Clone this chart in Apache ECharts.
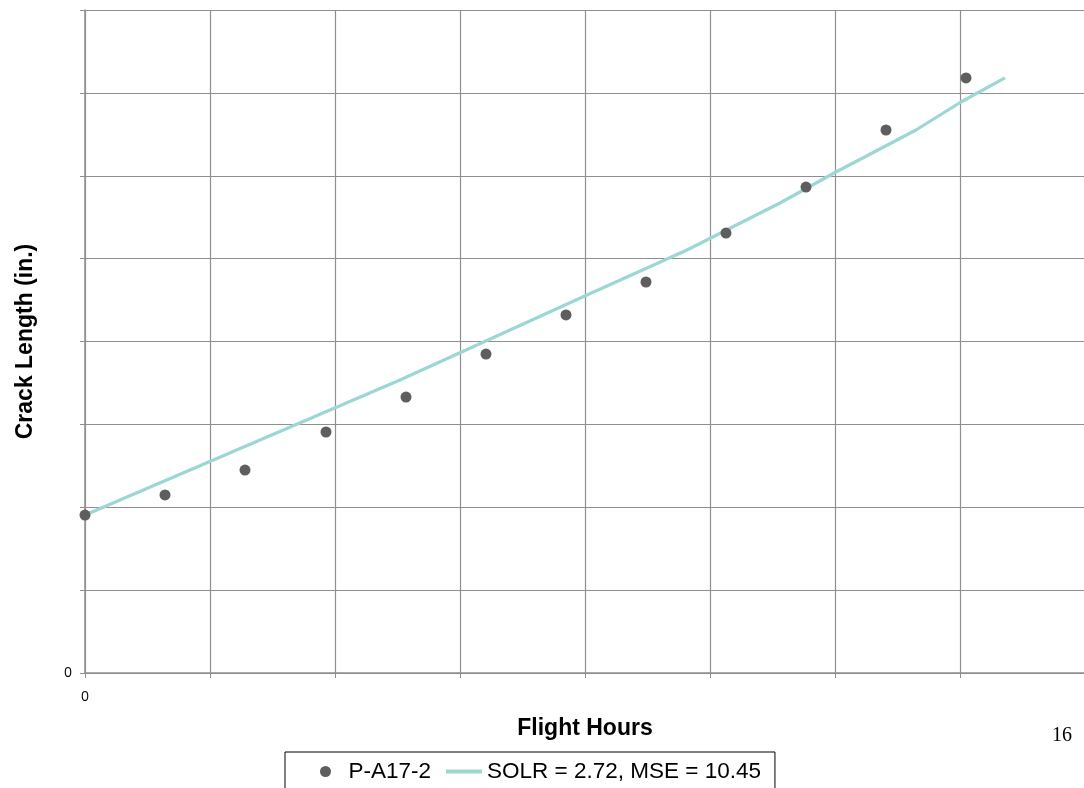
<!DOCTYPE html>
<html>
<head>
<meta charset="utf-8">
<script src="https://cdn.jsdelivr.net/npm/echarts@6/dist/echarts.min.js"></script>
<style>html,body{margin:0;padding:0;background:#fff;}#c{width:1084px;height:788px;}</style>
</head>
<body>
<div id="c"></div>
<script>
// Data (arbitrary units; axis labels hidden except 0)
var hours = [0, 640, 1280, 1928, 2568, 3208, 3848, 4488, 5128, 5768, 6408, 7048];
var crack = [1906, 2148, 2449, 2908, 3330, 3849, 4320, 4718, 5309, 5864, 6552, 7180];
var fitHours = [0, 840, 2520, 4016, 4816, 5560, 6008, 6648, 7008, 7360];
var fitCrack = [1906, 2450, 3535, 4561, 5104, 5671, 6045, 6552, 6890, 7180];
var seriesNames = ['P-A17-2', 'SOLR = 2.72, MSE = 10.45'];
var xTitle = 'Flight Hours';
var yTitle = 'Crack Length (in.)';
var pageNumber = '16';

var gridColor = '#8f8f8f';
var chart = echarts.init(document.getElementById('c'));
var pts = hours.map(function (h, i) { return [h, crack[i]]; });
var fit = fitHours.map(function (h, i) { return [h, fitCrack[i]]; });
var zeroOnly = function (v) { return v === 0 ? '0' : ''; };

chart.setOption({
  animation: false,
  grid: { left: 85, top: 10, width: 1000, height: 663, containLabel: false, outerBoundsMode: 'none' },
  xAxis: {
    type: 'value', min: 0, max: 8000, interval: 1000,
    axisLine: { show: true, lineStyle: { color: gridColor, width: 1.5 } },
    axisTick: { show: true, inside: false, length: 5, lineStyle: { color: gridColor } },
    splitLine: { show: true, lineStyle: { color: gridColor, width: 1.2 } },
    axisLabel: { formatter: zeroOnly, margin: 17, color: '#000', fontSize: 14, fontFamily: 'Open Sans' },
    name: xTitle, nameLocation: 'middle', nameGap: 44,
    nameTextStyle: { fontFamily: 'Liberation Sans', fontWeight: 'bold', fontSize: 23, color: '#000' }
  },
  yAxis: {
    type: 'value', min: 0, max: 8000, interval: 1000,
    axisLine: { show: true, lineStyle: { color: gridColor, width: 1.5 } },
    axisTick: { show: true, inside: false, length: 5, lineStyle: { color: gridColor } },
    splitLine: { show: true, lineStyle: { color: gridColor, width: 1.2 } },
    axisLabel: { formatter: zeroOnly, margin: 13, color: '#000', fontSize: 14, fontFamily: 'Open Sans' },
    name: yTitle, nameLocation: 'middle', nameGap: 48, nameRotate: 90,
    nameTextStyle: { fontFamily: 'Liberation Sans', fontWeight: 'bold', fontSize: 23, color: '#000' }
  },
  legend: {
    left: 285, top: 752,
    padding: [8, 14, 20, 35],
    borderColor: '#000', borderWidth: 1,
    itemWidth: 36, itemHeight: 11, itemGap: 15,
    textStyle: { fontFamily: 'Liberation Sans', fontSize: 22.5, color: '#000' },
    data: [
      { name: seriesNames[0], icon: 'circle' },
      { name: seriesNames[1], icon: 'path://M0,0L36,0L36,4L0,4Z' }
    ]
  },
  graphic: [{
    type: 'text', left: 1052, top: 726,
    style: { text: pageNumber, font: '20px "Liberation Serif", "DejaVu Serif", serif', fill: '#000' }
  }],
  series: [
    {
      name: seriesNames[0], type: 'scatter', data: pts,
      symbol: 'circle', symbolSize: 11,
      itemStyle: { color: '#5e5e5e', opacity: 1 }, z: 3
    },
    {
      name: seriesNames[1], type: 'line', data: fit,
      symbol: 'none', smooth: false,
      lineStyle: { color: '#9dd7d4', width: 3.2 },
      itemStyle: { color: '#9dd7d4' }, z: 2
    }
  ]
});
</script>
</body>
</html>
